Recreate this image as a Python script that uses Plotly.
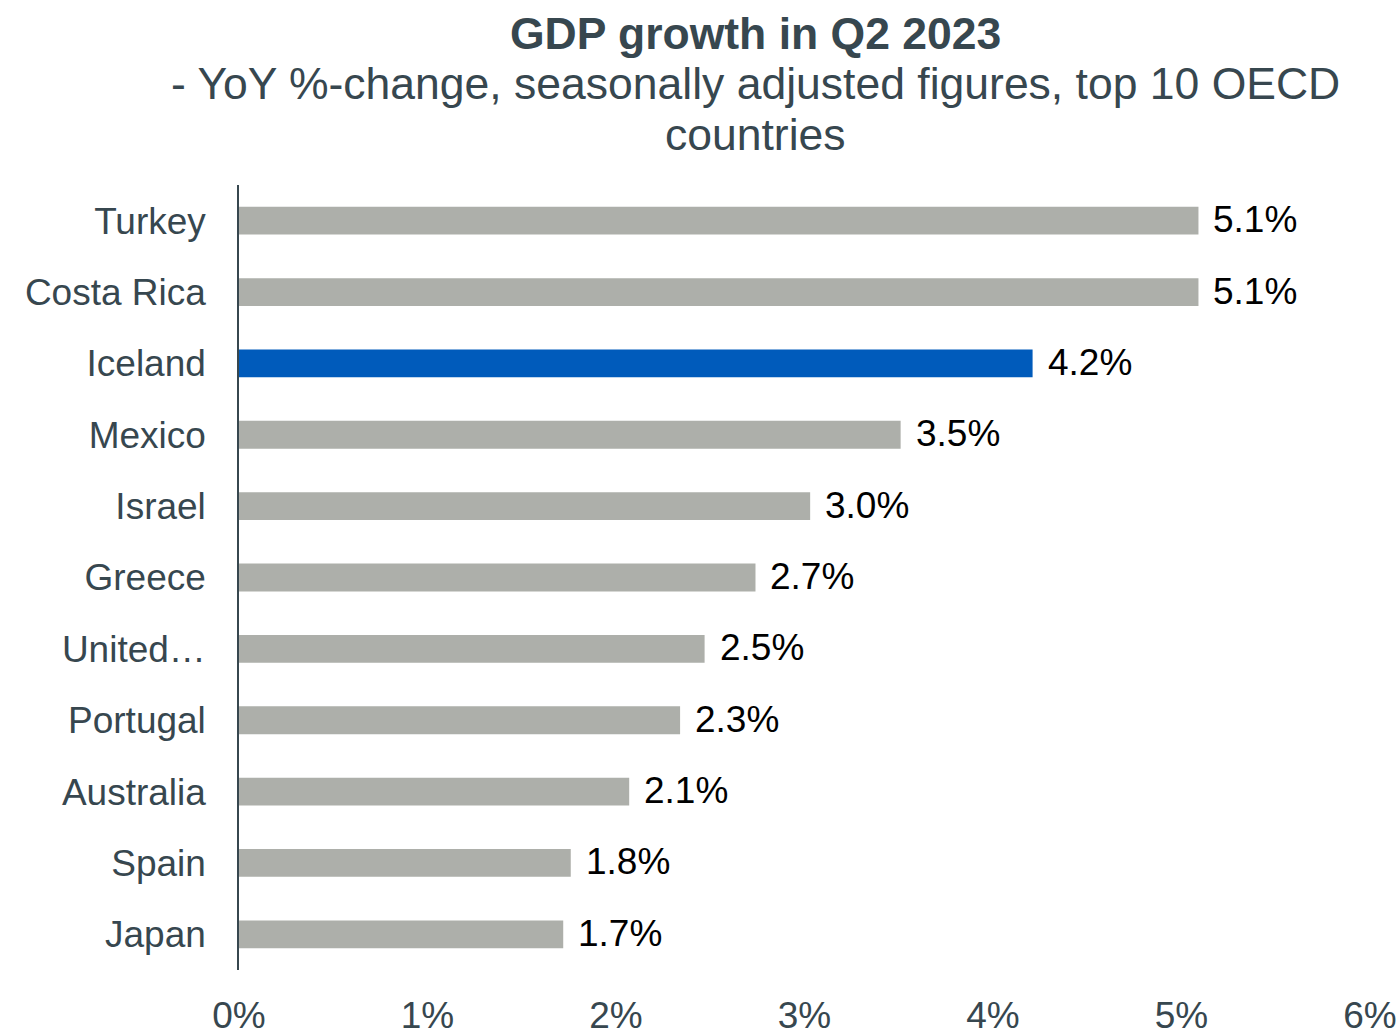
import plotly.graph_objects as go

countries = ["Turkey", "Costa Rica", "Iceland", "Mexico", "Israel", "Greece",
             "United…", "Portugal", "Australia", "Spain", "Japan"]
growth = [5.09, 5.09, 4.21, 3.51, 3.03, 2.74, 2.47, 2.34, 2.07, 1.76, 1.72]
highlight = "Iceland"
x_ticks = [0, 1, 2, 3, 4, 5, 6]
x_tick_labels = ["0%", "1%", "2%", "3%", "4%", "5%", "6%"]
title_lines = ["<b>GDP growth in Q2 2023</b>",
               "- YoY %-change, seasonally adjusted figures, top 10 OECD",
               "countries"]

GRAY = "#ADAFAA"
BLUE = "#005BBB"
SLATE = "#37474F"
FONT = "Arial, Liberation Sans, sans-serif"

colors = [BLUE if c == highlight else GRAY for c in countries]

fig = go.Figure()
fig.add_trace(go.Bar(
    x=growth, y=countries, orientation="h",
    marker=dict(color=colors, line=dict(width=0)),
    hoverinfo="skip",
))

for c, v in zip(countries, growth):
    fig.add_annotation(
        x=v, y=c, xref="x", yref="y", text=f"{v:.1f}%",
        showarrow=False, xanchor="left", xshift=13, yshift=1,
        font=dict(family=FONT, size=37, color="#000000"),
    )

# title lines (paper coordinates above the plot area)
for txt, ypos in zip(title_lines, [1.193, 1.129, 1.064]):
    fig.add_annotation(
        x=0.457, y=ypos, xref="paper", yref="paper", text=txt,
        showarrow=False, xanchor="center", yanchor="middle",
        font=dict(family=FONT, size=44.5, color=SLATE),
    )

fig.update_layout(
    width=1400, height=1035,
    paper_bgcolor="white", plot_bgcolor="white",
    margin=dict(l=239, r=30, t=185, b=65, autoexpand=False),
    bargap=0.61,
    showlegend=False,
    font=dict(family=FONT, color=SLATE),
    xaxis=dict(
        range=[0, 6], tickvals=x_ticks, ticktext=x_tick_labels,
        showgrid=False, zeroline=False, showline=False, ticks="",
        tickfont=dict(family=FONT, size=37, color=SLATE),
        ticklabelstandoff=20, automargin=False,
    ),
    yaxis=dict(
        categoryorder="array", categoryarray=countries, autorange="reversed",
        showgrid=False, zeroline=False, showline=True, linecolor=SLATE, linewidth=1.5,
        ticks="", tickfont=dict(family=FONT, size=37, color=SLATE),
        ticklabelstandoff=24, automargin=False,
    ),
)

# remove the default 8px page margin so the figure fills the window exactly
fig.write_html(
    "out.html",
    config={"displayModeBar": False},
    post_script="document.body.style.margin='0';document.body.style.overflow='hidden';",
)
